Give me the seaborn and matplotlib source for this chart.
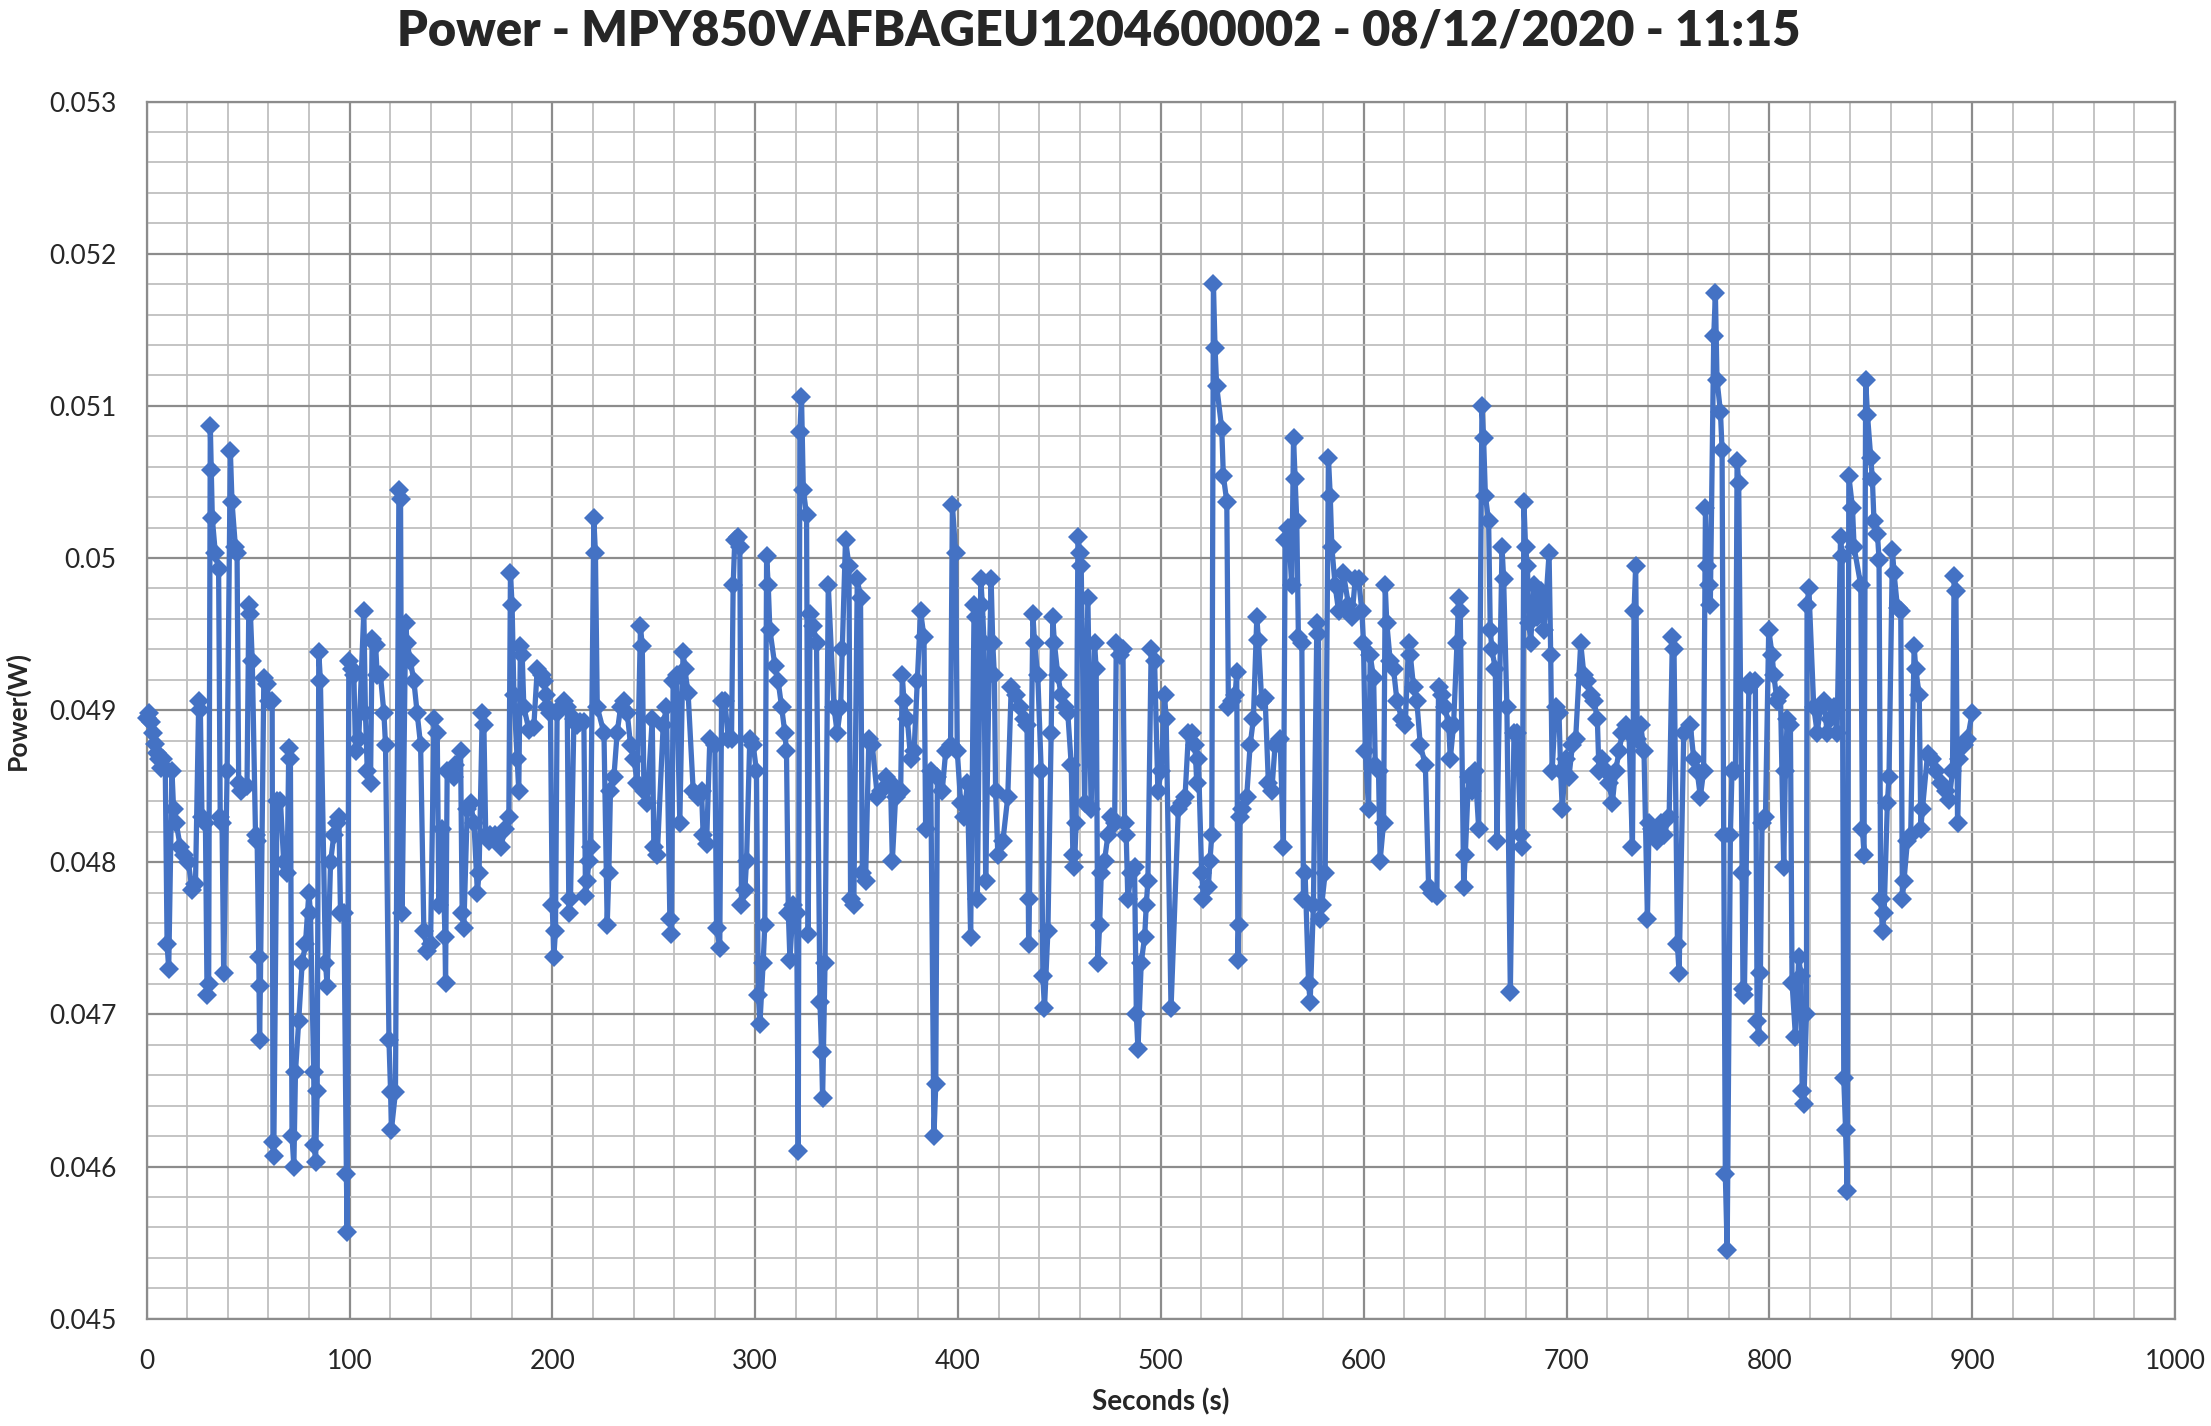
import matplotlib
matplotlib.use("Agg")
import matplotlib.pyplot as plt
from matplotlib.ticker import MultipleLocator, FuncFormatter
import seaborn as sns
import pandas as pd



title = "Power - MPY850VAFBAGEU1204600002 - 08/12/2020 - 11:15"

t_a = [0, 1, 2, 3, 4, 5, 6, 7, 8, 9.1, 10.0, 10.8, 12.4, 13.2, 14.5, 16.5, 18.5, 20.5, 22.3, 24.0,
       25.6, 26.4, 27.2, 28.9, 29.7, 30.5, 31.3, 31.8, 32.3, 33.8, 35.4, 36.2, 37.1, 37.9, 39.6, 41.2,
       42.0, 43.7, 44.5, 45.3, 46.2, 49.4, 50.3, 51.1, 52.0, 53.6, 54.4, 55.2, 55.6, 56.0, 57.7, 59.3,
       60.1, 61.8, 62.2, 62.6, 64.2, 65.9, 67.5, 69.2, 70.0, 70.8, 71.6, 72.5, 73.3, 74.9, 76.6, 78.2,
       79.9, 80.7, 82.3, 82.6, 83.2, 84.0, 84.8, 85.6]
p_a = [.04895, .04898, .04892, .04885, .04878, .04872, .04868, .04862, .04868, .04862, .04746, .04730,
       .04860, .04835, .04826, .04810, .04805, .04800, .04782, .04786, .04906, .04900, .04830, .04826,
       .04713, .04720, .05087, .05058, .05026, .05003, .04993, .04830, .04826, .04727, .04860, .05070,
       .05037, .05007, .05003, .04852, .04847, .04850, .04969, .04963, .04932, .04818, .04814, .04738,
       .04683, .04719, .04921, .04917, .04906, .04906, .04616, .04607, .04840, .04840, .04800, .04793,
       .04875, .04868, .04620, .04600, .04662, .04696, .04734, .04746, .04780, .04767, .04662, .04614,
       .04603, .04650, .04938, .04919]

t_b = [88.1, 88.9, 90.6, 92.2, 93.9, 94.7, 95.5, 97.2, 98.4, 98.8, 99.6, 101.3, 102.1, 102.9, 104.5,
       107.0, 107.8, 108.7, 110.3, 111.1, 112.8, 113.6, 115.2, 116.9, 117.7, 119.4, 120.2, 120.6, 122.6,
       124.3, 125.1, 125.9, 127.6, 128.4, 130.0, 131.7, 133.3, 135.0, 136.6, 138.3, 139.9, 141.6, 143.2,
       144.0, 145.7, 147.0, 147.3, 148.1, 151.4, 152.2, 154.7, 155.5, 156.3, 158.0, 159.6, 161.3, 163.0,
       163.8, 165.4, 166.2, 167.1, 168.7]
p_b = [.04734, .04719, .04800, .04818, .04826, .04830, .04767, .04767, .04595, .04557, .04932, .04927,
       .04923, .04873, .04881, .04965, .04898, .04860, .04852, .04947, .04943, .04923, .04923, .04898,
       .04877, .04683, .04649, .04624, .04649, .05045, .05039, .04767, .04957, .04944, .04932, .04919,
       .04898, .04877, .04755, .04742, .04746, .04894, .04885, .04772, .04822, .04751, .04721, .04860,
       .04856, .04864, .04873, .04767, .04757, .04835, .04839, .04826, .04780, .04793, .04898, .04890,
       .04818, .04814]

t_c = [169.4, 171.9, 174.4, 176.8, 178.5, 179.3, 180.1, 181.0, 182.6, 183.4, 184.2, 185.1, 185.9, 188.4,
       190.8, 192.5, 194.9, 195.8, 196.6, 197.4, 199.0, 199.9, 200.7, 201.5, 202.3, 204.0, 205.6, 207.3,
       208.1, 208.9, 210.6, 212.2, 213.8, 215.5, 216.3, 217.1, 218.0, 218.8, 220.4, 221.2, 222.1, 225.4,
       227.0, 227.8, 228.6, 230.3, 231.9, 233.6, 235.2, 236.9, 238.5, 240.2, 241.8, 243.4, 244.3, 245.1,
       246.7, 249.2, 250.0, 251.7]
p_c = [.04818, .04818, .04810, .04822, .04830, .04990, .04969, .04910, .04868, .04847, .04942, .04936,
       .04902, .04887, .04889, .04927, .04923, .04919, .04910, .04902, .04898, .04772, .04738, .04755,
       .04898, .04902, .04906, .04902, .04767, .04776, .04894, .04890, .04892, .04892, .04778, .04788,
       .04801, .04810, .05026, .05003, .04902, .04885, .04759, .04793, .04847, .04856, .04885, .04902,
       .04906, .04898, .04877, .04868, .04852, .04955, .04942, .04847, .04839, .04894, .04810, .04805]

t_d = [254.6, 256.2, 257.9, 258.7, 259.5, 261.2, 262.8, 264.4, 265.3, 266.9, 269.4, 271.8, 273.5, 274.3,
       276.0, 277.6, 280.1, 280.9, 282.5, 283.4, 285.0, 286.7, 288.3, 289.1, 289.9, 291.6, 292.4, 293.2,
       294.9, 295.7, 297.3, 299.0, 300.6, 301.5, 302.3, 303.9, 304.7, 305.6, 306.4, 307.2, 309.7, 311.3,
       313.0, 314.6, 315.4, 316.3, 317.1, 318.7, 320.4, 321.2, 322.0, 322.8, 323.7, 325.3, 326.1, 327.0,
       328.6, 330.2, 331.9, 332.7, 333.2, 334.4, 336.0]
p_d = [.04890, .04902, .04763, .04753, .04919, .04923, .04826, .04938, .04927, .04911, .04847, .04843,
       .04847, .04818, .04812, .04881, .04877, .04757, .04744, .04906, .04906, .04881, .04881, .04982,
       .05012, .05014, .05007, .04772, .04782, .04801, .04881, .04877, .04860, .04713, .04694, .04734,
       .04759, .05001, .04982, .04953, .04929, .04919, .04902, .04885, .04873, .04767, .04736, .04772,
       .04767, .04610, .05083, .05106, .05045, .05028, .04753, .04963, .04955, .04944, .04708, .04675,
       .04645, .04734, .04982]

t_e = [338.8, 340.4, 342.1, 342.9, 344.5, 346.2, 347.0, 348.6, 350.3, 351.9, 352.8, 354.4, 356.0, 357.7,
       360.2, 361.8, 364.3, 366.7, 367.6, 369.2, 371.7, 372.5, 373.3, 375.0, 376.6, 378.3, 379.9, 381.5,
       383.2, 384.0, 386.5, 388.1, 389.0, 389.8, 392.2, 393.9, 396.3, 397.2, 398.8, 399.6, 401.3, 402.9,
       404.6, 406.2, 407.9, 408.7, 409.5, 411.2, 412.0, 412.8, 413.6, 415.3]
p_e = [.04902, .04885, .04902, .04940, .05012, .04995, .04776, .04772, .04986, .04974, .04793, .04788,
       .04881, .04877, .04843, .04847, .04856, .04852, .04801, .04843, .04847, .04923, .04906, .04894,
       .04868, .04873, .04919, .04965, .04948, .04822, .04860, .04620, .04654, .04856, .04847, .04873,
       .04877, .05035, .05003, .04873, .04839, .04830, .04852, .04751, .04969, .04961, .04776, .04986,
       .04969, .04944, .04788, .04923]

t_f = [416.3, 417.1, 417.9, 418.5, 419.6, 422.1, 424.5, 426.2, 428.6, 430.3, 432.7, 434.0, 434.8, 435.2,
       436.9, 437.7, 439.3, 441.0, 441.8, 442.6, 444.3, 445.9, 446.7, 447.5, 449.2, 450.8, 452.5, 454.1,
       455.8, 456.6, 457.4, 458.2, 459.1, 459.9, 460.7, 462.4, 464.0, 465.6, 467.3, 468.1, 468.9, 469.8,
       470.6, 472.2, 473.9, 475.5, 477.2, 478.0, 479.6, 481.3, 482.1, 482.9, 483.7, 485.4, 487.0, 487.9,
       488.7, 490.3, 492.0, 492.8, 493.6, 495.2, 496.9, 498.5, 500.2, 501.8, 502.6, 505.0]
p_f = [.04986, .04944, .04923, .04847, .04805, .04814, .04843, .04915, .04910, .04902, .04894, .04890,
       .04746, .04776, .04963, .04944, .04923, .04860, .04725, .04704, .04755, .04885, .04961, .04944,
       .04923, .04910, .04902, .04898, .04864, .04805, .04797, .04826, .05014, .05003, .04995, .04839,
       .04974, .04835, .04944, .04927, .04734, .04759, .04793, .04801, .04818, .04830, .04826, .04944,
       .04936, .04940, .04826, .04818, .04776, .04793, .04797, .04700, .04677, .04734, .04751, .04772,
       .04788, .04940, .04932, .04847, .04860, .04910, .04894, .04704]

t_g = [508.6, 510.3, 511.9, 513.6, 515.2, 516.8, 517.7, 518.5, 520.1, 521.0, 523.4, 524.2, 525.1, 525.9,
       526.7, 527.5, 530.0, 530.8, 532.5, 533.3, 534.9, 536.6, 537.4, 538.0, 538.4, 539.0, 539.9, 542.3,
       544.0, 545.6, 547.3, 548.1, 549.7, 551.4, 553.0, 554.7, 556.3, 558.8, 560.4, 561.3, 562.9, 564.5,
       565.4, 566.2, 567.0, 567.8, 569.5, 570.3, 571.1, 572.8, 573.6, 575.2, 576.9, 577.7, 578.5, 579.3,
       581.0, 582.6, 583.5, 584.3, 585.9, 587.6]
p_g = [.04835, .04839, .04843, .04885, .04885, .04877, .04852, .04868, .04793, .04776, .04784, .04801,
       .04818, .05180, .05138, .05113, .05085, .05054, .05037, .04902, .04906, .04910, .04925, .04736,
       .04759, .04830, .04835, .04843, .04877, .04894, .04961, .04946, .04906, .04908, .04852, .04847,
       .04877, .04881, .04810, .05012, .05020, .04982, .05079, .05052, .05024, .04948, .04944, .04776,
       .04793, .04721, .04708, .04772, .04957, .04950, .04763, .04772, .04793, .05066, .05041, .05007,
       .04982, .04965]

t_h = [590.0, 592.5, 594.2, 595.8, 597.5, 599.1, 599.9, 600.8, 602.4, 603.2, 604.9, 605.7, 607.3, 608.1,
       609.8, 610.6, 611.4, 613.1, 614.7, 616.4, 618.8, 620.5, 622.1, 623.0, 624.6, 626.2, 627.9, 630.4,
       632.0, 633.6, 636.1, 636.9, 638.6, 640.2, 641.9, 642.7, 644.3, 646.0, 646.8, 647.6, 649.3, 650.1,
       651.7, 653.4, 655.0, 656.7, 658.3, 659.1, 660.0, 661.6, 662.4, 663.2, 664.9, 665.7, 668.2, 669.0,
       670.6, 672.3]
p_h = [.04990, .04969, .04961, .04986, .04986, .04965, .04944, .04873, .04835, .04936, .04921, .04864,
       .04860, .04801, .04826, .04982, .04957, .04932, .04927, .04906, .04894, .04890, .04944, .04936,
       .04915, .04906, .04877, .04864, .04784, .04780, .04778, .04915, .04910, .04902, .04890, .04868,
       .04890, .04944, .04974, .04965, .04784, .04805, .04856, .04847, .04860, .04822, .05100, .05079,
       .05041, .05024, .04953, .04940, .04927, .04814, .05007, .04986, .04902, .04715]

t_i = [674.1, 675.7, 677.4, 678.2, 679.0, 679.8, 680.7, 681.5, 682.3, 684.0, 685.6, 687.2, 688.9, 691.4,
       692.2, 692.9, 694.6, 696.3, 697.1, 697.9, 699.6, 701.2, 702.9, 704.5, 707.0, 708.6, 710.3, 711.9,
       713.6, 715.2, 716.0, 717.7, 719.3, 721.0, 722.6, 724.2, 725.9, 727.5, 729.2, 730.8, 732.5, 733.3,
       734.1, 734.9, 736.6, 738.2, 739.9, 740.7, 742.3, 744.8, 746.4, 748.1, 750.6, 752.2, 753.0, 754.7,
       755.5]
p_i = [.04885, .04885, .04818, .04810, .05037, .05007, .04995, .04957, .04944, .04982, .04961, .04978,
       .04953, .05003, .04936, .04860, .04902, .04898, .04860, .04835, .04868, .04856, .04877, .04881,
       .04944, .04923, .04919, .04910, .04906, .04894, .04860, .04868, .04860, .04852, .04839, .04860,
       .04873, .04885, .04890, .04885, .04810, .04965, .04995, .04881, .04890, .04873, .04763, .04826,
       .04822, .04814, .04826, .04818, .04830, .04948, .04940, .04746, .04727]

t_j = [757.8, 761.1, 762.7, 764.4, 766.0, 767.6, 768.5, 769.3, 770.1, 770.9, 772.6, 773.4, 774.2, 775.9,
       776.7, 777.5, 778.3, 779.2, 780.8, 781.6, 783.3, 784.1, 784.9, 786.6, 787.0, 787.7, 789.9, 790.7,
       793.1, 794.0, 794.8, 795.6, 796.4, 798.1, 799.7, 801.4, 802.2, 803.8, 805.5, 807.1, 807.9, 808.8,
       810.4, 811.2, 812.9, 814.5, 815.6, 816.2, 817.0, 818.3, 818.6, 819.5, 821.9, 823.6, 825.2, 826.9,
       828.5, 830.1, 831.8, 833.4, 835.1, 835.9, 836.7, 837.6, 838.4, 839.2]
p_j = [.04885, .04890, .04868, .04860, .04843, .04860, .05033, .04995, .04982, .04969, .05146, .05174,
       .05117, .05096, .05071, .04818, .04595, .04545, .04818, .04860, .04860, .05064, .05049, .04793,
       .04717, .04713, .04915, .04919, .04919, .04696, .04685, .04727, .04826, .04830, .04953, .04936,
       .04923, .04906, .04910, .04797, .04860, .04894, .04890, .04721, .04685, .04738, .04725, .04650,
       .04641, .04700, .04969, .04980, .04902, .04885, .04902, .04906, .04885, .04894, .04902, .04885,
       .05014, .05001, .04658, .04624, .04584, .05054]

t_k = [841.0, 841.8, 845.1, 845.9, 846.7, 847.5, 848.4, 850.0, 850.8, 851.6, 853.3, 854.1, 854.9, 855.8,
       856.6, 858.2, 859.0, 860.7, 861.5, 863.2, 864.8, 865.6, 866.4, 868.1, 869.7, 871.4, 872.2, 873.9,
       874.7, 875.5, 878.0, 880.4, 882.1, 884.5, 887.0, 888.7, 890.3, 891.1, 892.0, 892.8, 893.6, 896.1,
       897.7, 900.0]
p_k = [.05033, .05007, .04982, .04822, .04805, .05117, .05094, .05066, .05052, .05024, .05016, .04999,
       .04776, .04755, .04767, .04839, .04856, .05005, .04990, .04967, .04965, .04776, .04788, .04814,
       .04818, .04942, .04927, .04910, .04822, .04835, .04871, .04868, .04860, .04852, .04847, .04841,
       .04860, .04988, .04978, .04826, .04868, .04877, .04881, .04898]


def build_frame():
    t_parts = [t_a, t_b, t_c, t_d, t_e, t_f, t_g, t_h, t_i, t_j, t_k]
    p_parts = [p_a, p_b, p_c, p_d, p_e, p_f, p_g, p_h, p_i, p_j, p_k]
    seconds = []
    power = []
    for t, p in zip(t_parts, p_parts):
        if len(t) != len(p):
            print("length mismatch", len(t), len(p), t[0])
        seconds += t
        power += p
    return pd.DataFrame({'seconds': seconds, 'power': power})


def plot(data):
    sns.set_style("white")
    plt.rcParams['font.family'] = ['Lato', 'DejaVu Sans']

    fig = plt.figure(figsize=(22.11, 14.26), dpi=100)
    ax = fig.add_axes([0.0664, 0.0752, 0.9173, 0.8536])

    sns.lineplot(x='seconds', y='power', data=data, ax=ax, estimator=None, sort=False,
                 color='#4472C4', linewidth=3.8, marker='D', markersize=10, markeredgewidth=0,
                 clip_on=False, zorder=3)

    ax.set_xlim(0, 1000)
    ax.set_ylim(0.045, 0.053)
    ax.xaxis.set_major_locator(MultipleLocator(100))
    ax.xaxis.set_minor_locator(MultipleLocator(20))
    ax.yaxis.set_major_locator(MultipleLocator(0.001))
    ax.yaxis.set_minor_locator(MultipleLocator(0.0002))
    ax.yaxis.set_major_formatter(FuncFormatter(lambda v, pos: '%g' % round(v, 4)))

    ax.set_axisbelow(True)
    ax.grid(which='minor', color='#BFBFBF', linewidth=1.3)
    ax.grid(which='major', color='#8C8C8C', linewidth=1.6)
    for s in ax.spines.values():
        s.set_color('#8C8C8C')
        s.set_linewidth(1.6)
        s.set_zorder(1)

    ax.tick_params(which='major', direction='out', length=10, width=1.6, color='#8C8C8C',
                   labelsize=19, pad=12)
    ax.tick_params(which='minor', length=0)

    ax.set_xlabel('Seconds (s)', fontsize=20, fontweight='bold', labelpad=10)
    ax.set_ylabel('Power(W)', fontsize=19, fontweight='bold', labelpad=14)
    fig.text(0.497, 0.978, title, ha='center', va='center', fontsize=35, fontweight='heavy')

    fig.savefig('out.png', dpi=100)
    plt.close(fig)


if __name__ == "__main__":

    plot(build_frame())
